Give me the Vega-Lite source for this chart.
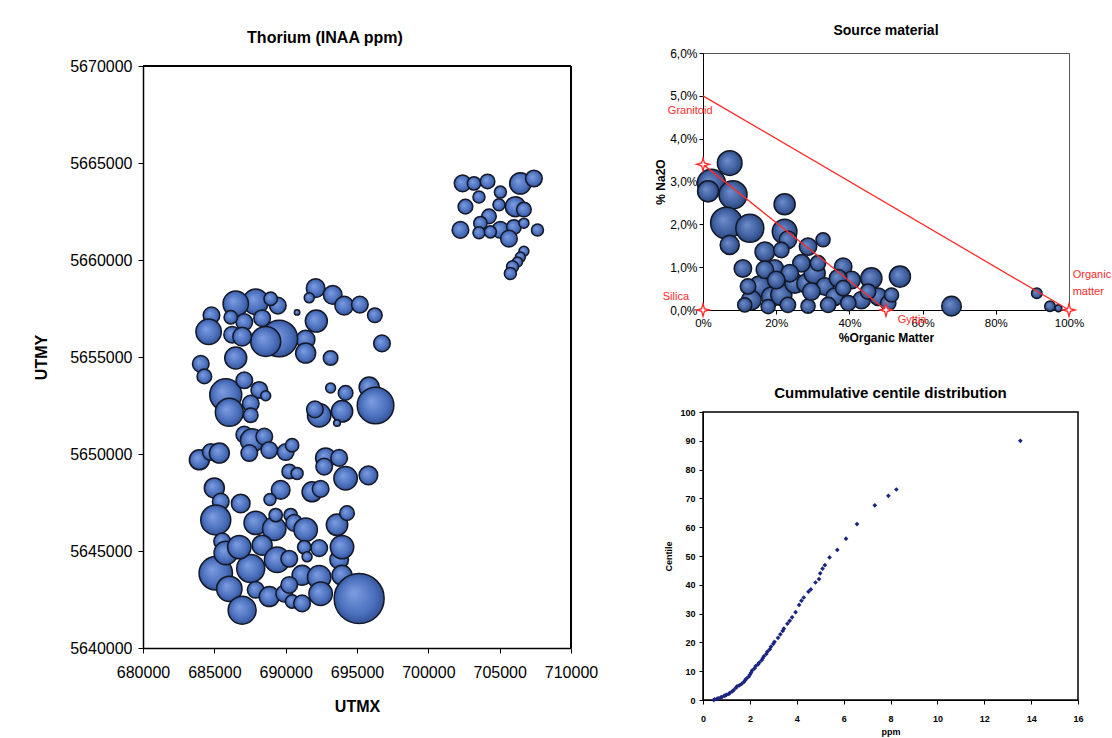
{
  "$schema": "https://vega.github.io/schema/vega-lite/v6.json",
  "background": "white",
  "padding": {"left": 33, "top": 23, "right": 0, "bottom": 0},
  "config": {
    "font": "Liberation Sans",
    "view": {"stroke": "black", "strokeWidth": 1.5},
    "axis": {"grid": false, "domainColor": "black", "tickColor": "black", "labelColor": "black", "titleColor": "black", "labelFont": "Liberation Sans", "titleFont": "Liberation Sans", "labelOverlap": false, "labelFlush": false},
    "title": {"font": "Liberation Sans", "color": "black"}
  },
  "spacing": 56,
  "resolve": {"scale": {"size": "independent"}},
  "hconcat": [
    {
      "title": {"text": "Thorium (INAA ppm)", "fontSize": 16, "fontWeight": "bold", "dx": -32, "offset": 7},
      "width": 428,
      "height": 595,
      "view": {"stroke": null},
      "data": {"values": [
        {"utmx": 692100, "utmy": 5658550, "th": 1.87},
        {"utmx": 691650, "utmy": 5658050, "th": 0.54},
        {"utmx": 693300, "utmy": 5658200, "th": 1.87},
        {"utmx": 694100, "utmy": 5657650, "th": 1.87},
        {"utmx": 695200, "utmy": 5657700, "th": 1.49},
        {"utmx": 696250, "utmy": 5657150, "th": 1.15},
        {"utmx": 696750, "utmy": 5655700, "th": 1.49},
        {"utmx": 693150, "utmy": 5654950, "th": 1.15},
        {"utmx": 692150, "utmy": 5656850, "th": 2.61},
        {"utmx": 691400, "utmy": 5655900, "th": 1.87},
        {"utmx": 691400, "utmy": 5655200, "th": 2.16},
        {"utmx": 690800, "utmy": 5657300, "th": 0.16},
        {"utmx": 689550, "utmy": 5655950, "th": 7.23},
        {"utmx": 688600, "utmy": 5655800, "th": 4.86},
        {"utmx": 687900, "utmy": 5657850, "th": 3.48},
        {"utmx": 686500, "utmy": 5657750, "th": 3.48},
        {"utmx": 689450, "utmy": 5657650, "th": 1.49},
        {"utmx": 688950, "utmy": 5658000, "th": 0.97},
        {"utmx": 688350, "utmy": 5657000, "th": 1.49},
        {"utmx": 687100, "utmy": 5656800, "th": 1.49},
        {"utmx": 686150, "utmy": 5657050, "th": 0.97},
        {"utmx": 684800, "utmy": 5657150, "th": 1.49},
        {"utmx": 684600, "utmy": 5656300, "th": 3.48},
        {"utmx": 686250, "utmy": 5656150, "th": 1.49},
        {"utmx": 686950, "utmy": 5656050, "th": 1.87},
        {"utmx": 686500, "utmy": 5654950, "th": 2.61},
        {"utmx": 684050, "utmy": 5654650, "th": 1.49},
        {"utmx": 684300, "utmy": 5654000, "th": 1.15},
        {"utmx": 685800, "utmy": 5653050, "th": 5.53},
        {"utmx": 687100, "utmy": 5653800, "th": 1.49},
        {"utmx": 688150, "utmy": 5653300, "th": 1.49},
        {"utmx": 688600, "utmy": 5653000, "th": 0.54},
        {"utmx": 687550, "utmy": 5652600, "th": 1.49},
        {"utmx": 686050, "utmy": 5652150, "th": 4.23},
        {"utmx": 687550, "utmy": 5652000, "th": 1.15},
        {"utmx": 693150, "utmy": 5653400, "th": 0.54},
        {"utmx": 694200, "utmy": 5653150, "th": 1.15},
        {"utmx": 695850, "utmy": 5653450, "th": 2.16},
        {"utmx": 696300, "utmy": 5652500, "th": 7.23},
        {"utmx": 693950, "utmy": 5652200, "th": 2.47},
        {"utmx": 692350, "utmy": 5652000, "th": 2.96},
        {"utmx": 692050, "utmy": 5652300, "th": 1.49},
        {"utmx": 693600, "utmy": 5651600, "th": 0.24},
        {"utmx": 687100, "utmy": 5651000, "th": 1.49},
        {"utmx": 687650, "utmy": 5650700, "th": 2.96},
        {"utmx": 688500, "utmy": 5650900, "th": 1.49},
        {"utmx": 688850, "utmy": 5650200, "th": 1.49},
        {"utmx": 690000, "utmy": 5650100, "th": 1.49},
        {"utmx": 690450, "utmy": 5650450, "th": 0.97},
        {"utmx": 687450, "utmy": 5650050, "th": 1.49},
        {"utmx": 683950, "utmy": 5649700, "th": 2.16},
        {"utmx": 684750, "utmy": 5650100, "th": 1.49},
        {"utmx": 685350, "utmy": 5650050, "th": 2.16},
        {"utmx": 692800, "utmy": 5649800, "th": 2.16},
        {"utmx": 693750, "utmy": 5649800, "th": 1.49},
        {"utmx": 690250, "utmy": 5649100, "th": 1.15},
        {"utmx": 690800, "utmy": 5649000, "th": 0.78},
        {"utmx": 692700, "utmy": 5649350, "th": 1.49},
        {"utmx": 694200, "utmy": 5648750, "th": 2.96},
        {"utmx": 695800, "utmy": 5648900, "th": 1.87},
        {"utmx": 691850, "utmy": 5648050, "th": 2.16},
        {"utmx": 692450, "utmy": 5648200, "th": 1.49},
        {"utmx": 689650, "utmy": 5648150, "th": 1.87},
        {"utmx": 688900, "utmy": 5647650, "th": 0.78},
        {"utmx": 685000, "utmy": 5648250, "th": 2.16},
        {"utmx": 685450, "utmy": 5647550, "th": 1.49},
        {"utmx": 686850, "utmy": 5647450, "th": 1.87},
        {"utmx": 685100, "utmy": 5646600, "th": 4.86},
        {"utmx": 687900, "utmy": 5646450, "th": 2.96},
        {"utmx": 689200, "utmy": 5646150, "th": 2.96},
        {"utmx": 689300, "utmy": 5646850, "th": 0.97},
        {"utmx": 690350, "utmy": 5646850, "th": 0.97},
        {"utmx": 690600, "utmy": 5646450, "th": 1.49},
        {"utmx": 691400, "utmy": 5646100, "th": 2.96},
        {"utmx": 693600, "utmy": 5646350, "th": 2.47},
        {"utmx": 694300, "utmy": 5646950, "th": 1.15},
        {"utmx": 685550, "utmy": 5645500, "th": 1.49},
        {"utmx": 685100, "utmy": 5643850, "th": 6.02},
        {"utmx": 686050, "utmy": 5643050, "th": 3.48},
        {"utmx": 686950, "utmy": 5641950, "th": 4.23},
        {"utmx": 687550, "utmy": 5644100, "th": 4.23},
        {"utmx": 687900, "utmy": 5643000, "th": 1.49},
        {"utmx": 685800, "utmy": 5644900, "th": 2.96},
        {"utmx": 686750, "utmy": 5645200, "th": 2.96},
        {"utmx": 688350, "utmy": 5645300, "th": 2.16},
        {"utmx": 689400, "utmy": 5644550, "th": 3.48},
        {"utmx": 688850, "utmy": 5642650, "th": 2.16},
        {"utmx": 689900, "utmy": 5642800, "th": 1.49},
        {"utmx": 690450, "utmy": 5642400, "th": 0.97},
        {"utmx": 691150, "utmy": 5642300, "th": 1.49},
        {"utmx": 691150, "utmy": 5643750, "th": 2.16},
        {"utmx": 690250, "utmy": 5644600, "th": 1.49},
        {"utmx": 691300, "utmy": 5645200, "th": 0.97},
        {"utmx": 692350, "utmy": 5645150, "th": 1.49},
        {"utmx": 691500, "utmy": 5644700, "th": 0.54},
        {"utmx": 692350, "utmy": 5643650, "th": 2.96},
        {"utmx": 693750, "utmy": 5644550, "th": 1.87},
        {"utmx": 693950, "utmy": 5645200, "th": 2.96},
        {"utmx": 692450, "utmy": 5642800, "th": 2.96},
        {"utmx": 693950, "utmy": 5643750, "th": 2.16},
        {"utmx": 690250, "utmy": 5643250, "th": 1.49},
        {"utmx": 695150, "utmy": 5642550, "th": 13.5},
        {"utmx": 702400, "utmy": 5663950, "th": 1.49},
        {"utmx": 703200, "utmy": 5663950, "th": 0.97},
        {"utmx": 704150, "utmy": 5664050, "th": 1.15},
        {"utmx": 706450, "utmy": 5663950, "th": 2.47},
        {"utmx": 707400, "utmy": 5664200, "th": 1.49},
        {"utmx": 705050, "utmy": 5663500, "th": 0.78},
        {"utmx": 703550, "utmy": 5663250, "th": 0.78},
        {"utmx": 702600, "utmy": 5662750, "th": 1.15},
        {"utmx": 704950, "utmy": 5662850, "th": 0.78},
        {"utmx": 706100, "utmy": 5662750, "th": 2.16},
        {"utmx": 706700, "utmy": 5662600, "th": 1.15},
        {"utmx": 704250, "utmy": 5662250, "th": 1.15},
        {"utmx": 703650, "utmy": 5661900, "th": 0.97},
        {"utmx": 702250, "utmy": 5661550, "th": 1.49},
        {"utmx": 703550, "utmy": 5661400, "th": 0.78},
        {"utmx": 705050, "utmy": 5661550, "th": 1.49},
        {"utmx": 706000, "utmy": 5661700, "th": 1.15},
        {"utmx": 706700, "utmy": 5661900, "th": 0.54},
        {"utmx": 707650, "utmy": 5661550, "th": 0.78},
        {"utmx": 705650, "utmy": 5661100, "th": 1.49},
        {"utmx": 704350, "utmy": 5661450, "th": 0.78},
        {"utmx": 706700, "utmy": 5660450, "th": 0.54},
        {"utmx": 706450, "utmy": 5660150, "th": 0.54},
        {"utmx": 706250, "utmy": 5659900, "th": 0.54},
        {"utmx": 705900, "utmy": 5659650, "th": 0.78},
        {"utmx": 705750, "utmy": 5659300, "th": 0.78}
      ]},
      "layer": [
        {
          "mark": {
            "type": "circle",
            "opacity": 1,
            "fill": {"gradient": "radial", "x1": 0.38, "y1": 0.38, "r1": 0, "x2": 0.5, "y2": 0.5, "r2": 0.55,
              "stops": [{"offset": 0, "color": "#7e9ee2"}, {"offset": 0.65, "color": "#4b70bd"}, {"offset": 1, "color": "#2c4a8c"}]},
            "stroke": "#141826",
            "strokeWidth": 1.5
          },
          "encoding": {
            "x": {"field": "utmx", "type": "quantitative",
              "scale": {"domain": [680000, 710000], "nice": false, "zero": false},
              "axis": {"values": [680000, 685000, 690000, 695000, 700000, 705000, 710000], "format": "d", "title": "UTMX",
                "labelFontSize": 16, "titleFontSize": 16, "titleFontWeight": "bold", "labelPadding": 11, "titlePadding": 18, "tickSize": 5, "domainWidth": 1.5}},
            "y": {"field": "utmy", "type": "quantitative",
              "scale": {"domain": [5640000, 5670000], "nice": false, "zero": false, "range": [595, 13]},
              "axis": {"values": [5640000, 5645000, 5650000, 5655000, 5660000, 5665000, 5670000], "format": "d", "title": "UTMY",
                "labelFontSize": 16, "titleFontSize": 16, "titleFontWeight": "bold", "labelPadding": 6, "titlePadding": 20, "tickSize": 5, "domainWidth": 1.5}},
            "size": {"field": "th", "type": "quantitative", "scale": {"domain": [0, 13.5], "range": [0, 2500]}, "legend": null}
          }
        },
        {
          "mark": {"type": "rule", "color": "black", "strokeWidth": 1.5},
          "encoding": {
            "y": {"datum": 5670000, "type": "quantitative"}
          }
        },
        {
          "mark": {"type": "rule", "color": "black", "strokeWidth": 1.5},
          "encoding": {
            "x": {"datum": 710000, "type": "quantitative"},
            "y": {"datum": 5640000, "type": "quantitative"},
            "y2": {"datum": 5670000}
          }
        }
      ]
    },
    {
      "spacing": 41,
      "resolve": {"scale": {"size": "independent"}},
      "vconcat": [
        {
          "title": {"text": "Source material", "fontSize": 14, "fontWeight": "bold", "offset": 9},
          "width": 366,
          "height": 257,
          "view": {"stroke": "#555", "strokeWidth": 1},
          "layer": [
            {
              "data": {"values": [
                {"om": 0.073, "na": 0.0343, "v": 8.2},
                {"om": 0.023, "na": 0.0296, "v": 10.6},
                {"om": 0.014, "na": 0.0277, "v": 6.0},
                {"om": 0.082, "na": 0.0269, "v": 10.6},
                {"om": 0.064, "na": 0.0203, "v": 13.5},
                {"om": 0.128, "na": 0.0191, "v": 10.6},
                {"om": 0.073, "na": 0.0152, "v": 4.9},
                {"om": 0.223, "na": 0.0247, "v": 6.0},
                {"om": 0.223, "na": 0.0183, "v": 8.2},
                {"om": 0.232, "na": 0.0164, "v": 4.1},
                {"om": 0.328, "na": 0.0164, "v": 2.7},
                {"om": 0.287, "na": 0.0148, "v": 4.1},
                {"om": 0.169, "na": 0.0136, "v": 5.2},
                {"om": 0.109, "na": 0.0097, "v": 4.1},
                {"om": 0.196, "na": 0.0097, "v": 4.1},
                {"om": 0.383, "na": 0.0101, "v": 4.1},
                {"om": 0.46, "na": 0.0074, "v": 6.0},
                {"om": 0.538, "na": 0.0078, "v": 6.0},
                {"om": 0.679, "na": 0.0009, "v": 5.2},
                {"om": 0.912, "na": 0.0039, "v": 1.5},
                {"om": 0.948, "na": 0.0009, "v": 1.5},
                {"om": 0.971, "na": 0.0004, "v": 0.65},
                {"om": 0.155, "na": 0.0055, "v": 6.0},
                {"om": 0.132, "na": 0.0023, "v": 5.2},
                {"om": 0.187, "na": 0.0031, "v": 5.2},
                {"om": 0.214, "na": 0.0035, "v": 6.0},
                {"om": 0.251, "na": 0.0062, "v": 5.2},
                {"om": 0.283, "na": 0.0062, "v": 5.2},
                {"om": 0.305, "na": 0.0086, "v": 6.0},
                {"om": 0.333, "na": 0.0055, "v": 4.1},
                {"om": 0.36, "na": 0.0031, "v": 4.1},
                {"om": 0.406, "na": 0.007, "v": 4.1},
                {"om": 0.433, "na": 0.0023, "v": 4.1},
                {"om": 0.479, "na": 0.0031, "v": 4.1},
                {"om": 0.506, "na": 0.0016, "v": 3.2},
                {"om": 0.114, "na": 0.0012, "v": 2.7},
                {"om": 0.178, "na": 0.0008, "v": 2.7},
                {"om": 0.232, "na": 0.0012, "v": 3.2},
                {"om": 0.287, "na": 0.0009, "v": 2.7},
                {"om": 0.342, "na": 0.0012, "v": 3.2},
                {"om": 0.397, "na": 0.0016, "v": 3.2},
                {"om": 0.269, "na": 0.0109, "v": 4.1},
                {"om": 0.169, "na": 0.0094, "v": 4.1},
                {"om": 0.237, "na": 0.0086, "v": 4.1},
                {"om": 0.369, "na": 0.0074, "v": 4.1},
                {"om": 0.314, "na": 0.0109, "v": 3.2},
                {"om": 0.214, "na": 0.014, "v": 3.2},
                {"om": 0.2, "na": 0.007, "v": 4.1},
                {"om": 0.296, "na": 0.0043, "v": 4.1},
                {"om": 0.451, "na": 0.0043, "v": 3.2},
                {"om": 0.515, "na": 0.0035, "v": 2.7},
                {"om": 0.123, "na": 0.0055, "v": 3.2},
                {"om": 0.383, "na": 0.0051, "v": 3.2}
              ]},
              "mark": {
                "type": "circle",
                "opacity": 1,
                "fill": {"gradient": "radial", "x1": 0.38, "y1": 0.38, "r1": 0, "x2": 0.5, "y2": 0.5, "r2": 0.55,
                  "stops": [{"offset": 0, "color": "#6f8dcc"}, {"offset": 0.65, "color": "#3f5f9f"}, {"offset": 1, "color": "#253f73"}]},
                "stroke": "#141826",
                "strokeWidth": 1.5
              },
              "encoding": {
                "x": {"field": "om", "type": "quantitative",
                  "scale": {"domain": [0, 1], "nice": false},
                  "axis": {"values": [0, 0.1, 0.2, 0.3, 0.4, 0.5, 0.6, 0.7, 0.8, 0.9, 1], "format": ".0%", "title": "%Organic Matter",
                    "labelFontSize": 11.5, "titleFontSize": 12, "titleFontWeight": "bold", "labelPadding": 3, "titlePadding": 4, "tickSize": 4}},
                "y": {"field": "na", "type": "quantitative",
                  "scale": {"domain": [0, 0.06], "nice": false},
                  "axis": {"values": [0, 0.01, 0.02, 0.03, 0.04, 0.05, 0.06], "labelExpr": "replace(format(datum.value, '.1%'), '.', ',')", "title": "% Na2O",
                    "labelFontSize": 12, "titleFontSize": 12, "titleFontWeight": "bold", "labelPadding": 2, "titlePadding": 2, "tickSize": 4}},
                "size": {"field": "v", "type": "quantitative", "scale": {"domain": [0, 13.5], "range": [0, 1000]}, "legend": null}
              }
            },
            {
              "data": {"values": [
                {"om": 0, "na": 0.05, "g": "a"},
                {"om": 1, "na": 0, "g": "a"},
                {"om": 0, "na": 0.034, "g": "b"},
                {"om": 0.5, "na": 0, "g": "b"}
              ]},
              "mark": {"type": "line", "color": "#ff2b2b", "strokeWidth": 1.3},
              "encoding": {
                "x": {"field": "om", "type": "quantitative"},
                "y": {"field": "na", "type": "quantitative"},
                "detail": {"field": "g"}
              }
            },
            {
              "data": {"values": [
                {"om": 0, "na": 0},
                {"om": 0, "na": 0.034},
                {"om": 0.5, "na": 0},
                {"om": 1, "na": 0}
              ]},
              "mark": {"type": "point", "shape": "M0,-1L0.22,-0.22L1,0L0.22,0.22L0,1L-0.22,0.22L-1,0L-0.22,-0.22Z", "filled": true, "fill": "white", "stroke": "#ff2b2b", "strokeWidth": 1.3, "size": 160, "opacity": 1},
              "encoding": {
                "x": {"field": "om", "type": "quantitative"},
                "y": {"field": "na", "type": "quantitative"}
              }
            },
            {
              "data": {"values": [
                {"om": -0.096, "na": 0.0465, "label": "Granitoid"},
                {"om": -0.11, "na": 0.003, "label": "Silica"},
                {"om": 0.532, "na": -0.0023, "label": "Gyttja"},
                {"om": 1.01, "na": 0.0082, "label": "Organic"},
                {"om": 1.01, "na": 0.0042, "label": "matter"}
              ]},
              "mark": {"type": "text", "align": "left", "baseline": "middle", "color": "#ff2b2b", "fontSize": 11, "font": "Liberation Sans"},
              "encoding": {
                "x": {"field": "om", "type": "quantitative"},
                "y": {"field": "na", "type": "quantitative"},
                "text": {"field": "label"}
              }
            }
          ]
        },
        {
          "title": {"text": "Cummulative centile distribution", "fontSize": 15, "fontWeight": "bold", "offset": 7},
          "width": 375,
          "height": 288,
          "data": {"values": [
            {"ppm": 0.45, "centile": 0}, {"ppm": 0.5, "centile": 0.2}, {"ppm": 0.6, "centile": 0.4}, {"ppm": 0.65, "centile": 0.6},
            {"ppm": 0.75, "centile": 0.8}, {"ppm": 0.8, "centile": 1.0}, {"ppm": 0.9, "centile": 1.4}, {"ppm": 0.95, "centile": 1.6},
            {"ppm": 1.0, "centile": 1.8}, {"ppm": 1.1, "centile": 2.1}, {"ppm": 1.15, "centile": 2.5}, {"ppm": 1.25, "centile": 3.0},
            {"ppm": 1.3, "centile": 3.4}, {"ppm": 1.4, "centile": 4.2}, {"ppm": 1.45, "centile": 4.7}, {"ppm": 1.55, "centile": 5.1},
            {"ppm": 1.65, "centile": 5.6}, {"ppm": 1.75, "centile": 6.3}, {"ppm": 1.8, "centile": 6.9}, {"ppm": 1.85, "centile": 7.4},
            {"ppm": 1.95, "centile": 8.1}, {"ppm": 2.0, "centile": 8.8}, {"ppm": 2.05, "centile": 9.5}, {"ppm": 2.1, "centile": 10.3},
            {"ppm": 2.2, "centile": 11.0}, {"ppm": 2.25, "centile": 11.8}, {"ppm": 2.35, "centile": 12.4}, {"ppm": 2.4, "centile": 13.0},
            {"ppm": 2.5, "centile": 13.8}, {"ppm": 2.55, "centile": 14.5}, {"ppm": 2.6, "centile": 15.2}, {"ppm": 2.7, "centile": 16.0},
            {"ppm": 2.75, "centile": 16.8}, {"ppm": 2.85, "centile": 17.6}, {"ppm": 2.9, "centile": 18.5}, {"ppm": 3.0, "centile": 19.5},
            {"ppm": 3.05, "centile": 20.2}, {"ppm": 3.2, "centile": 21.6}, {"ppm": 3.3, "centile": 22.8}, {"ppm": 3.4, "centile": 24.0},
            {"ppm": 3.45, "centile": 24.8}, {"ppm": 3.6, "centile": 26.5}, {"ppm": 3.7, "centile": 27.5}, {"ppm": 3.8, "centile": 28.7},
            {"ppm": 3.95, "centile": 30.5}, {"ppm": 4.1, "centile": 33.0}, {"ppm": 4.2, "centile": 34.5}, {"ppm": 4.3, "centile": 35.6},
            {"ppm": 4.5, "centile": 37.6}, {"ppm": 4.6, "centile": 38.4}, {"ppm": 4.8, "centile": 40.8}, {"ppm": 4.95, "centile": 42.0},
            {"ppm": 5.0, "centile": 44.0}, {"ppm": 5.1, "centile": 45.6}, {"ppm": 5.2, "centile": 46.8}, {"ppm": 5.4, "centile": 49.5},
            {"ppm": 5.73, "centile": 52.1}, {"ppm": 6.1, "centile": 56.0}, {"ppm": 6.57, "centile": 61.1}, {"ppm": 7.33, "centile": 67.6},
            {"ppm": 7.91, "centile": 70.9}, {"ppm": 8.25, "centile": 73.1}, {"ppm": 13.54, "centile": 90}
          ]},
          "mark": {"type": "point", "shape": "diamond", "filled": true, "color": "#1b2580", "size": 22, "opacity": 1},
          "encoding": {
            "x": {"field": "ppm", "type": "quantitative",
              "scale": {"domain": [0, 16], "nice": false},
              "axis": {"values": [0, 2, 4, 6, 8, 10, 12, 14, 16], "title": "ppm",
                "labelFontSize": 9, "labelFontWeight": "bold", "titleFontSize": 9, "titleFontWeight": "bold", "labelPadding": 10, "titlePadding": 4, "tickSize": 4}},
            "y": {"field": "centile", "type": "quantitative",
              "scale": {"domain": [0, 100], "nice": false},
              "axis": {"values": [0, 10, 20, 30, 40, 50, 60, 70, 80, 90, 100], "title": "Centile",
                "labelFontSize": 9, "labelFontWeight": "bold", "titleFontSize": 9, "titleFontWeight": "bold", "labelPadding": 4, "titlePadding": 6, "tickSize": 4}}
          }
        }
      ]
    }
  ]
}
